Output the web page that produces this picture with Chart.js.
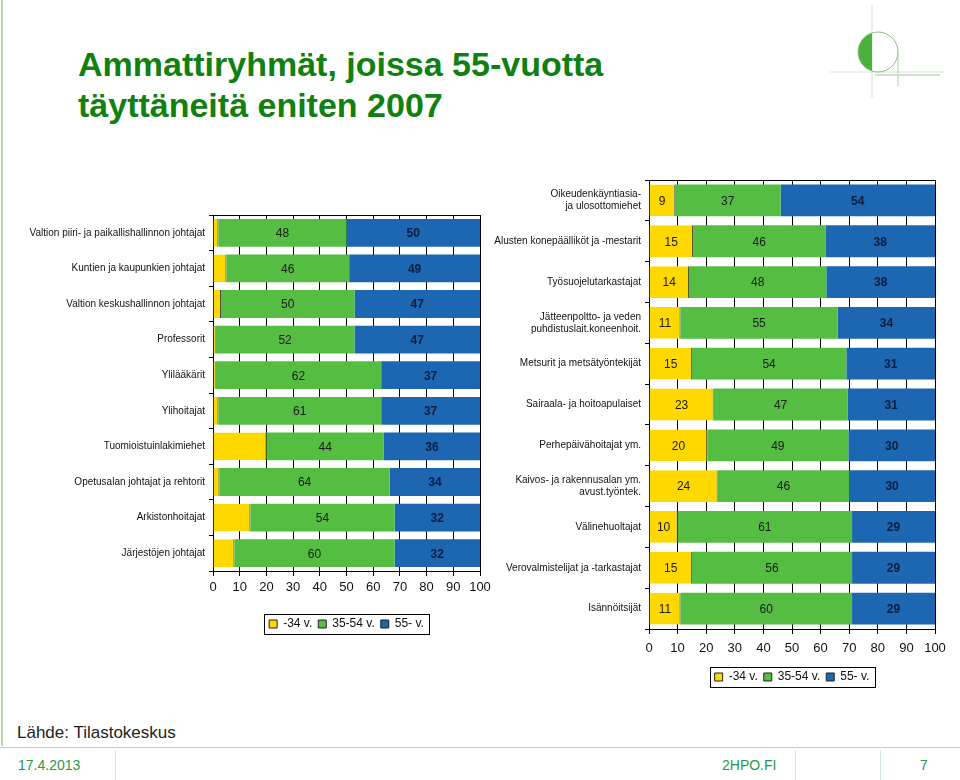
<!DOCTYPE html>
<html>
<head>
<meta charset="utf-8">
<script src="https://cdn.jsdelivr.net/npm/chart.js@4"></script>
<style>
  body { margin: 0; width: 960px; height: 780px; background: #fff; position: relative; overflow: hidden; font-family: "Liberation Sans", Arial, sans-serif; }
  .edge { position: absolute; left: 1px; top: 0; width: 2px; height: 746px; background: #b9d9a8; }
  h1 { position: absolute; left: 78px; top: 44px; margin: 0; font-size: 34px; line-height: 41px; color: #108010; font-weight: bold; }
  .src { position: absolute; left: 17px; top: 723px; font-size: 17px; color: #222; }
  .foot { position: absolute; left: 0; top: 747px; width: 960px; height: 1px; background: #a9d9b9; }
  .sep { position: absolute; top: 750px; width: 1px; height: 30px; background: #cfe8d8; }
  .ft { position: absolute; top: 757px; font-size: 14px; color: #1f9a4a; }
  #c1 { position: absolute; left: 0; top: 205px; }
  #c2 { position: absolute; left: 480px; top: 170px; }
  svg { position: absolute; left: 825px; top: 0; }
</style>
</head>
<body>
<div class="edge"></div>
<h1>Ammattiryhmät, joissa 55-vuotta<br>täyttäneitä eniten 2007</h1>
<svg width="135" height="105">
  <line x1="47" y1="5" x2="47" y2="98" stroke="#cfe3c8" stroke-width="1"/>
  <line x1="5" y1="72" x2="120" y2="72" stroke="#d6e6d0" stroke-width="1"/>
  <path d="M47 32.9 A20 20 0 0 0 47 71.1 Z" fill="#4caf3e"/>
  <circle cx="53" cy="52" r="20" fill="none" stroke="#8cc084" stroke-width="1"/>
  <line x1="73" y1="52" x2="73" y2="86" stroke="#a9cfa0" stroke-width="1"/>
  <line x1="50" y1="75" x2="115" y2="75" stroke="#d0e0cc" stroke-width="2"/>
</svg>
<canvas id="c1" width="497" height="440"></canvas>
<canvas id="c2" width="480" height="525"></canvas>
<div class="src">Lähde: Tilastokeskus</div>
<div class="foot"></div>
<div class="sep" style="left:115px"></div>
<div class="sep" style="left:795px"></div>
<div class="sep" style="left:880px"></div>
<div class="ft" style="left:18px">17.4.2013</div>
<div class="ft" style="left:722px">2HPO.FI</div>
<div class="ft" style="left:920px">7</div>
<script>
// vasen kaavio
const leftLabels = [
  "Valtion piiri- ja paikallishallinnon johtajat",
  "Kuntien ja kaupunkien johtajat",
  "Valtion keskushallinnon johtajat",
  "Professorit",
  "Ylilääkärit",
  "Ylihoitajat",
  "Tuomioistuinlakimiehet",
  "Opetusalan johtajat ja rehtorit",
  "Arkistonhoitajat",
  "Järjestöjen johtajat"
];
const leftYoung = [2, 5, 3, 1, 1, 2, 20, 2.4, 14, 8];
const leftMid = [48, 46, 50, 52, 62, 61, 44, 63.8, 54, 60];
const leftOld = [50, 49, 47, 47, 37, 37, 36, 33.8, 32, 32];

// oikea kaavio
const rightLabels = [
  ["Oikeudenkäyntiasia-", "ja ulosottomiehet"],
  "Alusten konepäälliköt ja -mestarit",
  "Työsuojelutarkastajat",
  ["Jätteenpoltto- ja veden", "puhdistuslait.koneenhoit."],
  "Metsurit ja metsätyöntekijät",
  "Sairaala- ja hoitoapulaiset",
  "Perhepäivähoitajat ym.",
  ["Kaivos- ja rakennusalan ym.", "avust.työntek."],
  "Välinehuoltajat",
  "Verovalmistelijat ja -tarkastajat",
  "Isännöitsijät"
];
const rightYoung = [9, 15.4, 14, 11, 15, 22.6, 20.4, 24, 10, 15, 11];
const rightMid = [37, 46.3, 48, 55, 54, 46.8, 49.3, 46, 61, 56, 60];
const rightOld = [54, 38.3, 38, 34, 31, 30.6, 30.3, 30, 29, 29, 29];

const seriesNames = ["-34 v.", "35-54 v.", "55- v."];
const xTicks = [0, 10, 20, 30, 40, 50, 60, 70, 80, 90, 100];

const FONT = "'Liberation Sans', Arial, sans-serif";
const YELLOW = "#ffd800", GREEN = "#55be42", BLUE = "#1c66b2";

// arvot palkkien keskelle
const valueLabels = {
  id: "valueLabels",
  afterDatasetsDraw(chart, args, opts) {
    const c = chart.ctx;
    c.save();
    c.textAlign = "center";
    c.textBaseline = "middle";
    chart.data.datasets.forEach((ds, i) => {
      if (opts.skip && opts.skip.includes(i)) return;
      const meta = chart.getDatasetMeta(i);
      meta.data.forEach((el, j) => {
        const v = ds.data[j];
        if (!v) return;
        c.font = (i === 2 ? "bold " : "") + "12px " + FONT;
        c.fillStyle = i === 2 ? "#0b1d3e" : "#1a1a1a";
        c.fillText(Math.round(v), (el.x + el.base) / 2, el.y + 1);
      });
    });
    c.restore();
  }
};

// yläreuna ja selitteen kehys
const frame = {
  id: "frame",
  afterDraw(chart) {
    const c = chart.ctx, a = chart.chartArea;
    c.save();
    c.strokeStyle = "#000";
    c.lineWidth = 1;
    c.beginPath();
    c.moveTo(a.left, Math.round(a.top) + 0.5);
    c.lineTo(a.right, Math.round(a.top) + 0.5);
    c.stroke();
    const hb = chart.legend.legendHitBoxes;
    if (hb && hb.length) {
      const l = hb[0].left - 5, t = hb[0].top - 4;
      const last = hb[hb.length - 1];
      const r = last.left + last.width + 5, b = last.top + last.height + 4;
      c.strokeRect(Math.round(l) + 0.5, Math.round(t) + 0.5, Math.round(r - l), Math.round(b - t));
    }
    c.restore();
  }
};

function makeChart(id, labels, young, mid, old, opt) {
  return new Chart(document.getElementById(id), {
    type: "bar",
    data: {
      labels: labels,
      datasets: [
        { label: seriesNames[0], data: young, backgroundColor: YELLOW, borderColor: "#4a4a2a", borderWidth: { top: 0, right: 1, bottom: 0, left: 0 }, borderSkipped: false },
        { label: seriesNames[1], data: mid, backgroundColor: GREEN },
        { label: seriesNames[2], data: old, backgroundColor: BLUE }
      ]
    },
    options: {
      indexAxis: "y",
      responsive: false,
      animation: false,
      layout: { padding: { top: 10, right: opt.padRight, left: 0, bottom: opt.padBottom } },
      datasets: { bar: { barPercentage: 0.78, categoryPercentage: 1 } },
      plugins: {
        legend: {
          position: "bottom",
          fullSize: false,
          labels: {
            boxWidth: 8, boxHeight: 8, padding: 6, color: "#111",
            font: { family: FONT, size: 12 },
            generateLabels(chart) {
              return Chart.defaults.plugins.legend.labels.generateLabels(chart).map(it => {
                it.strokeStyle = "#222"; it.lineWidth = 1; return it;
              });
            }
          }
        },
        tooltip: { enabled: false },
        valueLabels: { skip: opt.skip }
      },
      scales: {
        x: {
          stacked: true, min: 0, max: 100,
          afterBuildTicks(s) { s.ticks = xTicks.map(v => ({ value: v })); },
          afterFit(s) { s.height = opt.xHeight; },
          grid: { color: "#000", lineWidth: 1, tickLength: 5 },
          border: { color: "#000" },
          ticks: { color: "#111", font: { family: FONT, size: 13 }, padding: opt.tickPad, maxRotation: 0, minRotation: 0 }
        },
        y: {
          stacked: true,
          afterFit(s) { s.width = opt.yWidth; },
          grid: { drawOnChartArea: false, color: "#000", tickLength: 4 },
          border: { color: "#000" },
          ticks: { color: "#111", font: { family: FONT, size: 10 }, padding: 4, autoSkip: false }
        }
      }
    },
    plugins: [valueLabels, frame]
  });
}

makeChart("c1", leftLabels, leftYoung, leftMid, leftOld, { yWidth: 213, padRight: 17, padBottom: 5, xHeight: 41, tickPad: 4, skip: [0] });
makeChart("c2", rightLabels, rightYoung, rightMid, rightOld, { yWidth: 169, padRight: 25, padBottom: 2, xHeight: 36, tickPad: 7, skip: [] });
</script>
</body>
</html>
